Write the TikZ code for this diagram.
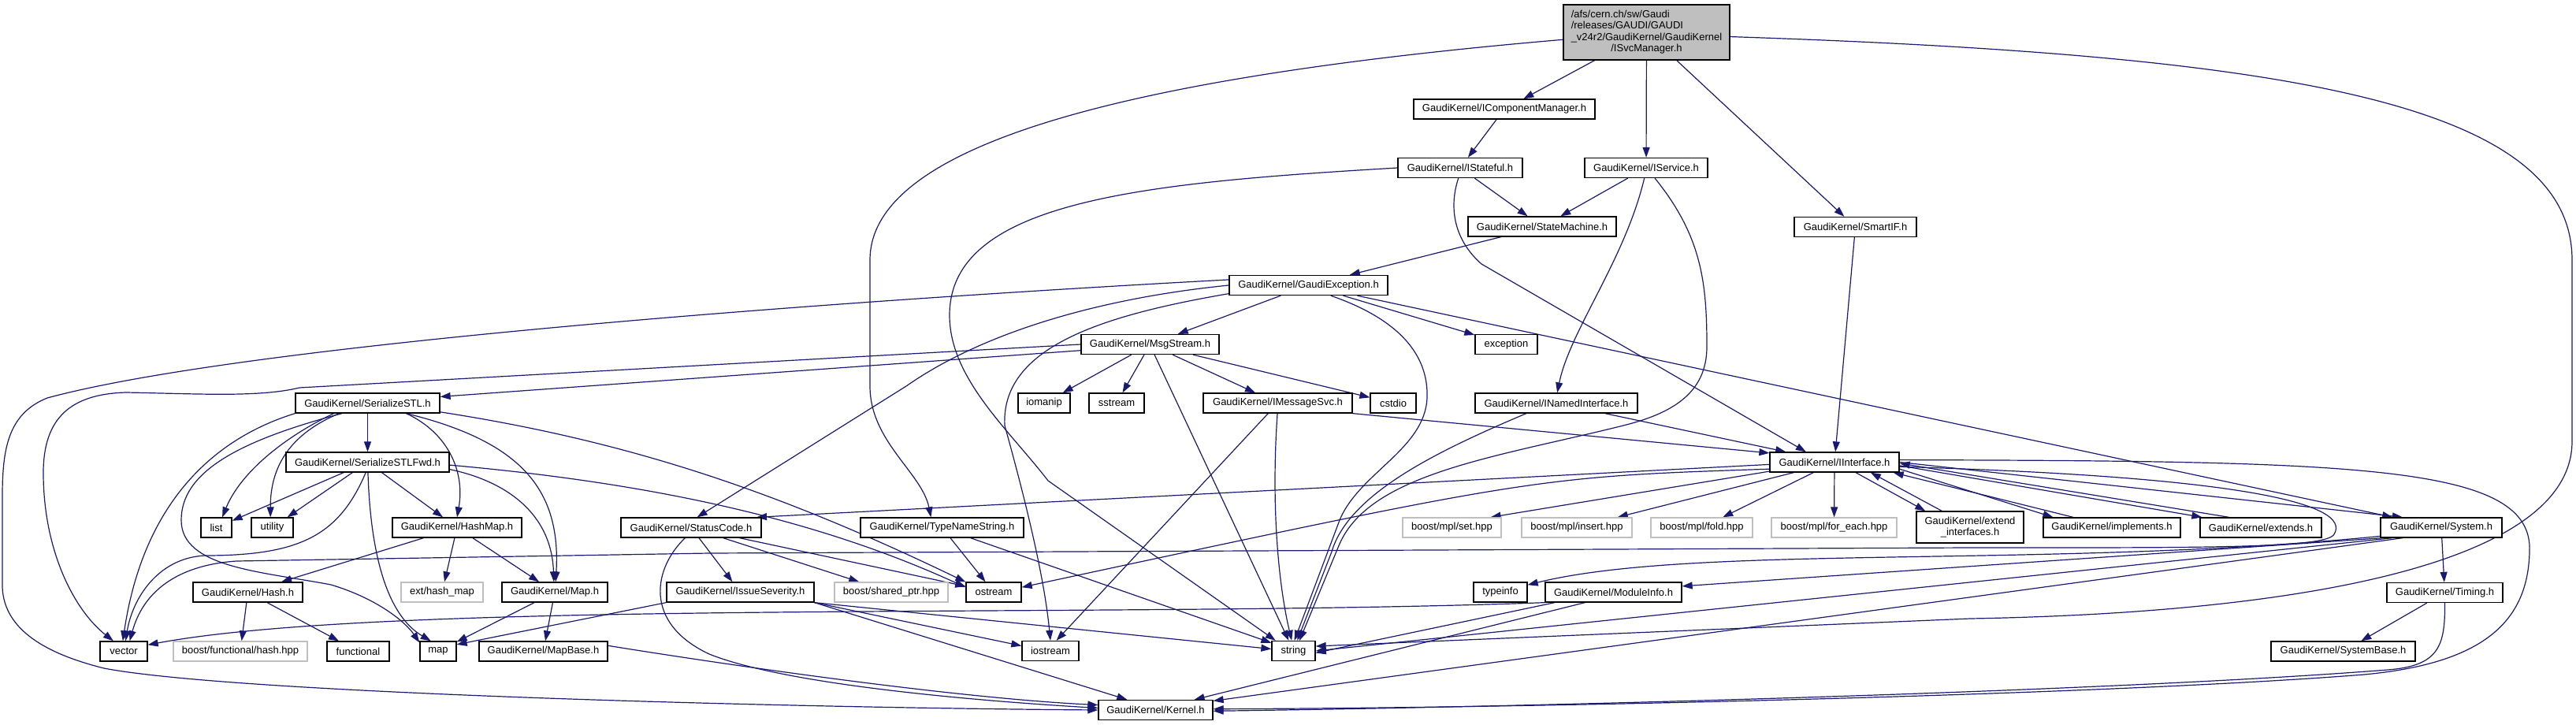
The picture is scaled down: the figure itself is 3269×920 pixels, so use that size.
\documentclass[tikz,border=0pt]{standalone}
\usepackage{fontspec}
\setmainfont{Liberation Sans}
\usepackage{tikz}
\usetikzlibrary{arrows.meta, backgrounds}
\definecolor{edgeblue}{HTML}{191970}
\definecolor{mainfill}{HTML}{BFBFBF}
\definecolor{sysedge}{HTML}{BFBFBF}
\newcommand{\hdrfont}{\fontsize{13}{14.6}\selectfont}

\begin{document}
\begin{tikzpicture}[x=1pt, y=-1pt,
    hdr/.style={draw=black, line width=1.3pt, fill=white, inner sep=0pt, minimum height=25pt, font=\hdrfont},
    syshdr/.style={hdr, draw=sysedge},
    wd/.style={minimum width=#1pt},
    dep/.style={draw=edgeblue, line width=1.2pt, -{Triangle[length=13pt, width=9pt]}}
]
\useasboundingbox (0,0) rectangle (3269,920);

% Top file and the interface headers below it
\node[hdr, wd=211, minimum height=70pt, fill=mainfill] (ism) at (2089.5,41) {\begin{tabular}{@{}l@{}}/afs/cern.ch/sw/Gaudi\\/releases/GAUDI/GAUDI\\\_v24r2/GaudiKernel/GaudiKernel\\\multicolumn{1}{@{}c@{}}{/ISvcManager.h}\end{tabular}};
\node[hdr, wd=230] (icm) at (1909,138.5) {GaudiKernel/IComponentManager.h};
\node[hdr, wd=158] (isf) at (1853,213) {GaudiKernel/IStateful.h};
\node[hdr, wd=156] (isv) at (2089,213) {GaudiKernel/IService.h};
\node[hdr, wd=188] (stm) at (1957,287.5) {GaudiKernel/StateMachine.h};
\node[hdr, wd=155] (sif) at (2354.5,288) {GaudiKernel/SmartIF.h};
\node[hdr, wd=201] (gex) at (1660.5,362) {GaudiKernel/GaudiException.h};
\node[hdr, wd=175] (msg) at (1459.5,437) {GaudiKernel/MsgStream.h};
\node[hdr, wd=79] (exc) at (1911.5,437) {exception};

% Middle rows
\node[hdr, wd=183] (sstl) at (466.5,511.5) {GaudiKernel/SerializeSTL.h};
\node[hdr, wd=66] (iom) at (1325,511.5) {iomanip};
\node[hdr, wd=70] (sst) at (1417,511.5) {sstream};
\node[hdr, wd=189] (ims) at (1621.5,511.5) {GaudiKernel/IMessageSvc.h};
\node[hdr, wd=58] (cst) at (1768,511.5) {cstdio};
\node[hdr, wd=206] (inm) at (1975,511.5) {GaudiKernel/INamedInterface.h};
\node[hdr, wd=207] (sfwd) at (466.5,586.5) {GaudiKernel/SerializeSTLFwd.h};
\node[hdr, wd=164] (iif) at (2328,586.5) {GaudiKernel/IInterface.h};

\node[hdr, wd=39] (lst) at (274.5,669.5) {list};
\node[hdr, wd=53] (utl) at (345.5,669.5) {utility};
\node[hdr, wd=164] (hmap) at (580,669.5) {GaudiKernel/HashMap.h};
\node[hdr, wd=178] (sc) at (877,669.5) {GaudiKernel/StatusCode.h};
\node[hdr, wd=207] (tns) at (1195.5,669.5) {GaudiKernel/TypeNameString.h};
\node[syshdr, wd=125] (bset) at (1842.5,669.5) {boost/mpl/set.hpp};
\node[syshdr, wd=140] (bins) at (2001,669.5) {boost/mpl/insert.hpp};
\node[syshdr, wd=129] (bfold) at (2159.5,669.5) {boost/mpl/fold.hpp};
\node[syshdr, wd=159] (bfe) at (2327.5,669.5) {boost/mpl/for\_each.hpp};
\node[hdr, wd=136, minimum height=40pt, align=center] (ext) at (2500,669) {GaudiKernel/extend\\\_interfaces.h};
\node[hdr, wd=174] (impl) at (2680,669.5) {GaudiKernel/implements.h};
\node[hdr, wd=154] (extd) at (2869,669.5) {GaudiKernel/extends.h};
\node[hdr, wd=154] (sys) at (3098,669.5) {GaudiKernel/System.h};

\node[hdr, wd=139] (hash) at (314.5,751.5) {GaudiKernel/Hash.h};
\node[syshdr, wd=104] (hmp) at (561,751.5) {ext/hash\_map};
\node[hdr, wd=134] (map) at (704,751.5) {GaudiKernel/Map.h};
\node[hdr, wd=187] (isev) at (939.5,751.5) {GaudiKernel/IssueSeverity.h};
\node[syshdr, wd=144] (bsp) at (1131,751.5) {boost/shared\_ptr.hpp};
\node[hdr, wd=70] (ost) at (1261,751.5) {ostream};
\node[hdr, wd=68] (tinfo) at (1904,751.5) {typeinfo};
\node[hdr, wd=173] (modi) at (2047.5,751.5) {GaudiKernel/ModuleInfo.h};
\node[hdr, wd=147] (tim) at (3102.5,752) {GaudiKernel/Timing.h};

% Bottom rows
\node[hdr, wd=60] (vec) at (157,826.5) {vector};
\node[syshdr, wd=170] (bfh) at (305,826.5) {boost/functional/hash.hpp};
\node[hdr, wd=79] (fnc) at (454.5,826.5) {functional};
\node[hdr, wd=46] (mp) at (556,826.5) {map};
\node[hdr, wd=163] (mpb) at (689.5,826.5) {GaudiKernel/MapBase.h};
\node[hdr, wd=72] (ios) at (1333,826) {iostream};
\node[hdr, wd=55] (str) at (1641.5,826) {string};
\node[hdr, wd=183] (sysb) at (2973.5,826.5) {GaudiKernel/SystemBase.h};
\node[hdr, wd=145] (ker) at (1466.5,901) {GaudiKernel/Kernel.h};

\begin{scope}[on background layer]
% ISvcManager.h
\draw[dep] (ism) -- (icm);
\draw[dep] (ism) -- (isv);
\draw[dep] (ism) -- (sif);
\draw[dep] (ism.185) .. controls (1400,100) and (1104,190) .. (1104,330) -- (1104,490) .. controls (1104,560) and (1170,600) .. (tns.137);
\draw[dep] (ism.-3) .. controls (2900,70) and (3264,130) .. (3264,330) -- (3264,560) .. controls (3264,720) and (2900,778) .. (2500,785) -- (str.12);

% IComponentManager, IStateful, IService
\draw[dep] (icm) -- (isf);
\draw[dep] (isf) -- (stm);
\draw[dep] (isv) -- (stm);
\draw[dep] (isf.-100) .. controls (1838,265) and (1846,305) .. (1880,335) -- (iif.160);
\draw[dep] (isf.west) .. controls (1450,232) and (1205,255) .. (1205,400) .. controls (1205,480) and (1280,545) .. (1330,610) -- (str.150);
\draw[dep] (isv.-100) .. controls (2062,330) and (1992,420) .. (inm.85);
\draw[dep] (isv.-50) .. controls (2160,300) and (2166,360) .. (2166,440) .. controls (2166,500) and (2120,525) .. (2060,540) .. controls (1900,580) and (1740,600) .. (1700,690) -- (str.60);

% StateMachine, SmartIF
\draw[dep] (stm) -- (gex);
\draw[dep] (sif) -- (iif);

% GaudiException
\draw[dep] (gex) -- (msg);
\draw[dep] (gex) -- (exc);
\draw[dep] (gex.-25) .. controls (1775,405) and (1813,450) .. (1811,505) .. controls (1808,570) and (1725,600) .. (1700,660) -- (str.85);
\draw[dep] (gex.west) .. controls (1400,378) and (1250,420) .. (1150,490) -- (sc.60);
\draw[dep] (gex.186) .. controls (1400,400) and (1270,440) .. (1275,540) .. controls (1300,630) and (1325,730) .. (ios.north);
\draw[dep] (gex.176) .. controls (1000,385) and (300,440) .. (60,505) .. controls (10,525) and (3,570) .. (3,630) -- (3,745) .. controls (5,800) and (60,830) .. (132,848) .. controls (300,880) and (1000,898) .. (ker.180);
\draw[dep] (gex.-12) -- (sys.168);

% MsgStream
\draw[dep] (msg.185) -- (sstl.5);
\draw[dep] (msg.west) -- (380,492) .. controls (330,504) and (260,500) .. (160,498) .. controls (90,500) and (55,530) .. (55,600) .. controls (55,700) and (95,775) .. (vec.135);
\draw[dep] (msg) -- (iom);
\draw[dep] (msg) -- (sst);
\draw[dep] (msg) -- (ims);
\draw[dep] (msg) -- (cst);
\draw[dep] (msg.-67) -- (str.115);

% IMessageSvc, INamedInterface
\draw[dep] (ims.south east) -- (iif.172);
\draw[dep] (ims.-92) .. controls (1613,640) and (1622,740) .. (str.100);
\draw[dep] (ims.-133) -- (ios.60);
\draw[dep] (inm) -- (iif);
\draw[dep] (inm.-161) .. controls (1830,570) and (1712,625) .. (1690,700) -- (str.70);

% SerializeSTL
\draw[dep] (sstl) -- (sfwd);
\draw[dep] (sstl.south west) .. controls (260,560) and (180,650) .. (vec.95);
\draw[dep] (sstl.-163) .. controls (360,555) and (305,600) .. (lst.60);
\draw[dep] (sstl.-160) .. controls (370,550) and (343,590) .. (utl.100);
\draw[dep] (sstl.-158) .. controls (300,560) and (230,600) .. (230,660) .. controls (230,720) and (330,725) .. (420,742) .. controls (480,760) and (515,790) .. (mp.155);
\draw[dep] (sstl.-15) .. controls (570,550) and (590,600) .. (hmap.north);
\draw[dep] (sstl.-15) .. controls (660,560) and (712,620) .. (map.85);
\draw[dep] (sstl.-7) .. controls (800,560) and (990,625) .. (ost.160);

% SerializeSTLFwd
\draw[dep] (sfwd) -- (lst);
\draw[dep] (sfwd) -- (utl);
\draw[dep] (sfwd.-100) .. controls (430,680) and (380,705) .. (260,705) .. controls (200,708) and (168,760) .. (vec.80);
\draw[dep] (sfwd.-88) .. controls (470,700) and (490,780) .. (mp.125);
\draw[dep] (sfwd) -- (hmap);
\draw[dep] (sfwd.-5) .. controls (640,610) and (700,650) .. (map.95);
\draw[dep] (sfwd.-2) .. controls (850,615) and (1050,665) .. (ost.170);

% HashMap, Hash, Map, MapBase
\draw[dep] (hmap) -- (hash);
\draw[dep] (hmap) -- (hmp);
\draw[dep] (hmap) -- (map);
\draw[dep] (hash) -- (bfh);
\draw[dep] (hash) -- (fnc);
\draw[dep] (map) -- (mp);
\draw[dep] (map) -- (mpb);
\draw[dep] (mpb.5) .. controls (900,840) and (1200,885) .. (ker.175);

% StatusCode, TypeNameString, IssueSeverity
\draw[dep] (sc) -- (isev);
\draw[dep] (sc) -- (bsp);
\draw[dep] (sc) -- (ost);
\draw[dep] (sc.-120) .. controls (830,720) and (815,790) .. (900,830) .. controls (1000,870) and (1250,890) .. (ker.178);
\draw[dep] (tns) -- (ost);
\draw[dep] (tns.-20) -- (str.160);
\draw[dep] (isev.south west) -- (mp.20);
\draw[dep] (isev.south east) -- (ios.170);
\draw[dep] (isev.south east) -- (str.175);
\draw[dep] (isev.south east) -- (ker.160);

% IInterface
\draw[dep] (iif.182) -- (sc.9);
\draw[dep] (iif.186) .. controls (1950,605) .. (ost.10);
\draw[dep] (iif.188) -- (bset.15);
\draw[dep] (iif) -- (bins);
\draw[dep] (iif) -- (bfold);
\draw[dep] (iif) -- (bfe);
\draw[dep] (iif.-26) -- (ext.160);
\draw[dep] (ext.150) -- (iif.-16);
\draw[dep] (iif.-6) -- (impl.170);
\draw[dep] (impl.165) -- (iif.-10);
\draw[dep] (iif.-3) -- (extd.170);
\draw[dep] (extd.162) -- (iif.-1);
\draw[dep] (iif.0) -- (sys.165);
\draw[dep] (iif.2) .. controls (3000,585) and (3215,590) .. (3210,700) .. controls (3208,790) and (3150,842) .. (3000,856) .. controls (2700,880) and (2000,898) .. (ker.1);
\draw[dep] (iif.-4) .. controls (2850,605) and (2985,640) .. (2962,678) .. controls (2952,696) and (2800,695) .. (2500,695) -- (900,702) -- (300,712) .. controls (240,716) and (185,740) .. (vec.60);

% System, ModuleInfo, Timing
\draw[dep] (sys) -- (tim);
\draw[dep] (sys.-172) .. controls (2600,722) and (2150,690) .. (tinfo.15);
\draw[dep] (sys.-170) -- (modi.5);
\draw[dep] (sys.-168) -- (str.0);
\draw[dep] (sys.-165) -- (ker.9);
\draw[dep] (modi.south west) .. controls (1400,785) and (500,760) .. (vec.15);
\draw[dep] (modi.-170) -- (str.-5);
\draw[dep] (modi.-160) -- (ker.15);
\draw[dep] (tim) -- (sysb);
\draw[dep] (tim.south) .. controls (3103,820) and (3095,845) .. (3030,850) .. controls (2700,876) and (2000,896) .. (ker.-1);
\end{scope}
\end{tikzpicture}
\end{document}
